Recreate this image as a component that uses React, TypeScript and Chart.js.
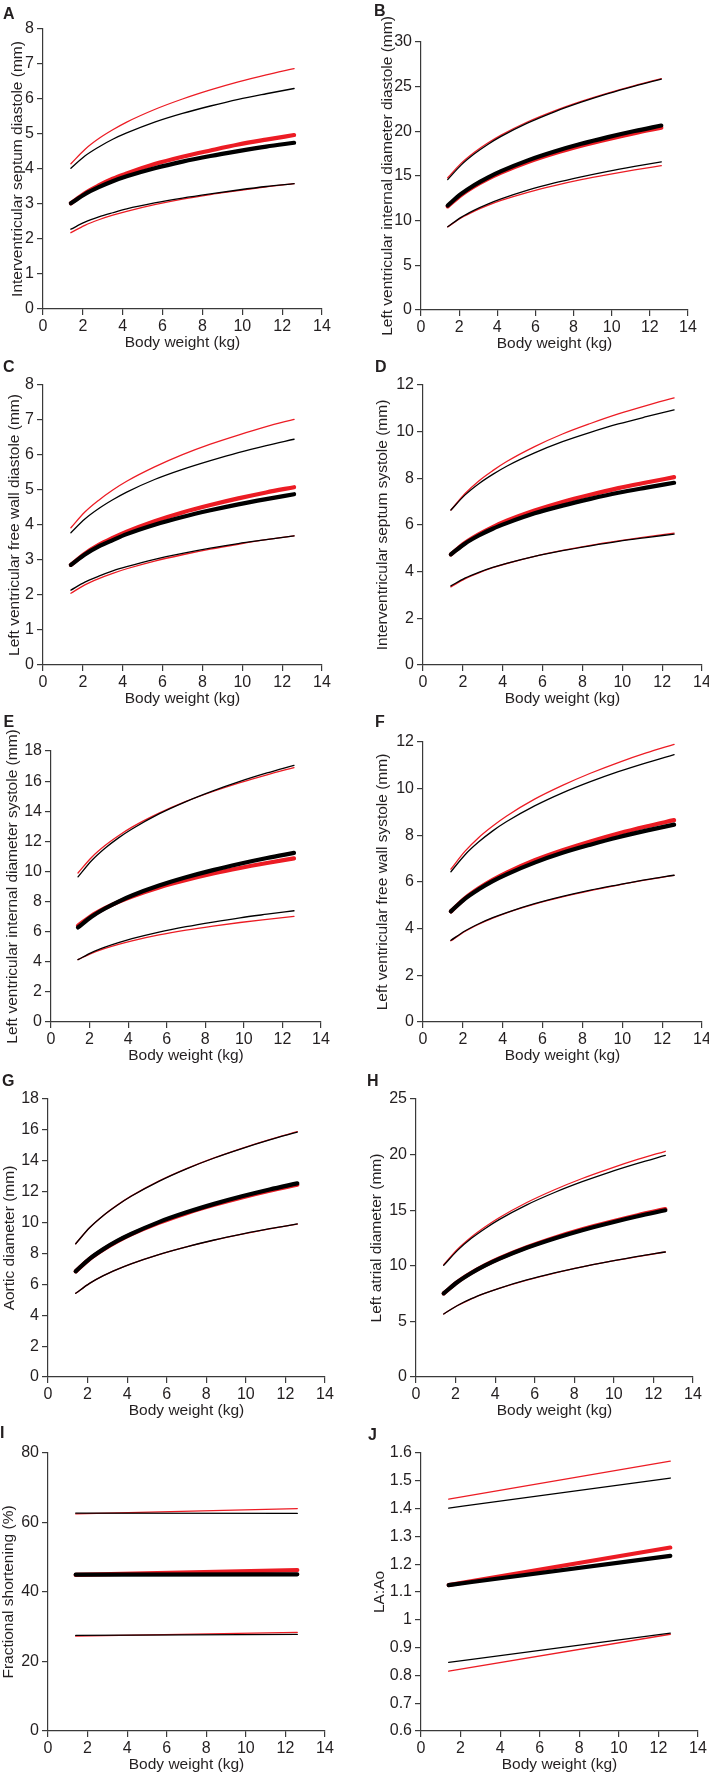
import React, { useEffect, useRef } from "react";
import { Chart, registerables } from "chart.js";

Chart.register(...registerables);

// ---------- data ----------
const bodyWeightKg = [1.4, 2.1, 2.8, 3.5, 4.2, 5.6, 7, 8.4, 9.8, 11.2, 12.6];
const bodyWeightEndsKg = [1.4, 12.6];
const xTickMax = 14;
const xTickStep = 2;

// A: Interventricular septum diastole (mm)
const ivsdBlackUpper = [4.02, 4.37, 4.63, 4.85, 5.03, 5.34, 5.59, 5.8, 5.99, 6.15, 6.3];
const ivsdBlackMean = [3.02, 3.28, 3.48, 3.65, 3.79, 4.02, 4.21, 4.37, 4.51, 4.64, 4.75];
const ivsdBlackLower = [2.28, 2.48, 2.63, 2.75, 2.86, 3.03, 3.17, 3.29, 3.4, 3.5, 3.58];
const ivsdRedUpper = [4.15, 4.56, 4.87, 5.12, 5.34, 5.7, 6.0, 6.26, 6.49, 6.69, 6.87];
const ivsdRedMean = [3.02, 3.31, 3.53, 3.72, 3.87, 4.14, 4.35, 4.53, 4.7, 4.84, 4.97];
const ivsdRedLower = [2.18, 2.39, 2.55, 2.68, 2.79, 2.98, 3.14, 3.27, 3.38, 3.49, 3.58];

// B: Left ventricular internal diameter diastole (mm)
const lviddBlackUpper = [14.6, 16.22, 17.48, 18.53, 19.43, 20.94, 22.19, 23.26, 24.22, 25.07, 25.85];
const lviddBlackMean = [11.7, 12.99, 14.0, 14.83, 15.54, 16.75, 17.74, 18.6, 19.35, 20.03, 20.65];
const lviddBlackLower = [9.32, 10.37, 11.18, 11.85, 12.43, 13.41, 14.22, 14.91, 15.53, 16.08, 16.59];
const lviddRedUpper = [14.8, 16.41, 17.66, 18.69, 19.58, 21.07, 22.3, 23.36, 24.29, 25.13, 25.9];
const lviddRedMean = [11.6, 12.87, 13.86, 14.68, 15.38, 16.56, 17.54, 18.38, 19.12, 19.79, 20.4];
const lviddRedLower = [9.3, 10.3, 11.07, 11.71, 12.26, 13.17, 13.93, 14.59, 15.16, 15.68, 16.15];

// C: Left ventricular free wall diastole (mm)
const lvfwdBlackUpper = [3.78, 4.17, 4.47, 4.72, 4.94, 5.3, 5.59, 5.84, 6.07, 6.27, 6.45];
const lvfwdBlackMean = [2.86, 3.16, 3.39, 3.57, 3.74, 4.01, 4.23, 4.42, 4.59, 4.74, 4.88];
const lvfwdBlackLower = [2.14, 2.37, 2.54, 2.69, 2.81, 3.02, 3.19, 3.34, 3.47, 3.58, 3.69];
const lvfwdRedUpper = [3.92, 4.37, 4.71, 5.0, 5.25, 5.66, 6.01, 6.31, 6.57, 6.81, 7.02];
const lvfwdRedMean = [2.86, 3.18, 3.43, 3.63, 3.81, 4.11, 4.36, 4.57, 4.76, 4.93, 5.08];
const lvfwdRedLower = [2.05, 2.29, 2.47, 2.62, 2.75, 2.97, 3.15, 3.31, 3.45, 3.58, 3.69];

// D: Interventricular septum systole (mm)
const ivssBlackUpper = [6.64, 7.28, 7.77, 8.17, 8.52, 9.09, 9.57, 9.97, 10.33, 10.64, 10.93];
const ivssBlackMean = [4.74, 5.2, 5.55, 5.84, 6.08, 6.5, 6.83, 7.12, 7.38, 7.6, 7.81];
const ivssBlackLower = [3.39, 3.72, 3.97, 4.18, 4.36, 4.66, 4.9, 5.11, 5.3, 5.46, 5.61];
const ivssRedUpper = [6.64, 7.34, 7.89, 8.33, 8.72, 9.36, 9.9, 10.35, 10.76, 11.12, 11.45];
const ivssRedMean = [4.74, 5.23, 5.6, 5.91, 6.18, 6.62, 6.99, 7.3, 7.58, 7.82, 8.05];
const ivssRedLower = [3.35, 3.69, 3.95, 4.17, 4.35, 4.66, 4.91, 5.13, 5.32, 5.49, 5.65];

// E: Left ventricular internal diameter systole (mm)
const lvidsBlackUpper = [9.64, 10.71, 11.54, 12.23, 12.82, 13.82, 14.64, 15.35, 15.98, 16.54, 17.05];
const lvidsBlackMean = [6.28, 6.99, 7.54, 8.0, 8.4, 9.06, 9.61, 10.09, 10.51, 10.89, 11.23];
const lvidsBlackLower = [4.14, 4.61, 4.97, 5.27, 5.53, 5.97, 6.33, 6.64, 6.92, 7.16, 7.39];
const lvidsRedUpper = [9.9, 10.93, 11.72, 12.37, 12.94, 13.87, 14.65, 15.31, 15.9, 16.42, 16.9];
const lvidsRedMean = [6.4, 7.06, 7.56, 7.98, 8.34, 8.94, 9.43, 9.86, 10.23, 10.56, 10.87];
const lvidsRedLower = [4.14, 4.56, 4.89, 5.16, 5.39, 5.78, 6.1, 6.37, 6.61, 6.82, 7.02];

// F: Left ventricular free wall systole (mm)
const lvfwsBlackUpper = [6.44, 7.16, 7.72, 8.19, 8.59, 9.26, 9.82, 10.3, 10.73, 11.11, 11.46];
const lvfwsBlackMean = [4.74, 5.28, 5.69, 6.04, 6.33, 6.83, 7.25, 7.6, 7.92, 8.2, 8.46];
const lvfwsBlackLower = [3.5, 3.9, 4.21, 4.47, 4.69, 5.07, 5.38, 5.65, 5.88, 6.1, 6.29];
const lvfwsRedUpper = [6.55, 7.31, 7.91, 8.4, 8.83, 9.55, 10.14, 10.66, 11.12, 11.53, 11.9];
const lvfwsRedMean = [4.74, 5.3, 5.73, 6.09, 6.4, 6.93, 7.36, 7.74, 8.08, 8.38, 8.65];
const lvfwsRedLower = [3.48, 3.88, 4.19, 4.45, 4.68, 5.05, 5.36, 5.63, 5.87, 6.09, 6.28];

// G: Aortic diameter (mm)
const aoBlackUpper = [8.63, 9.66, 10.46, 11.12, 11.7, 12.67, 13.48, 14.18, 14.79, 15.35, 15.86];
const aoBlackMean = [6.84, 7.65, 8.28, 8.81, 9.26, 10.03, 10.66, 11.21, 11.7, 12.14, 12.54];
const aoBlackLower = [5.42, 6.06, 6.56, 6.97, 7.33, 7.93, 8.43, 8.87, 9.25, 9.6, 9.91];
const aoRedUpper = [8.63, 9.66, 10.46, 11.13, 11.71, 12.68, 13.49, 14.19, 14.81, 15.37, 15.88];
const aoRedMean = [6.84, 7.64, 8.26, 8.78, 9.23, 9.98, 10.61, 11.15, 11.63, 12.06, 12.45];
const aoRedLower = [5.42, 6.06, 6.56, 6.97, 7.33, 7.93, 8.43, 8.86, 9.25, 9.59, 9.9];

// H: Left atrial diameter (mm)
const laBlackUpper = [10.04, 11.39, 12.47, 13.36, 14.15, 15.48, 16.59, 17.56, 18.43, 19.21, 19.93];
const laBlackMean = [7.52, 8.54, 9.35, 10.03, 10.62, 11.62, 12.46, 13.2, 13.85, 14.45, 14.99];
const laBlackLower = [5.67, 6.43, 7.04, 7.54, 7.98, 8.73, 9.36, 9.91, 10.39, 10.84, 11.24];
const laRedUpper = [10.1, 11.49, 12.59, 13.51, 14.32, 15.69, 16.84, 17.85, 18.74, 19.56, 20.3];
const laRedMean = [7.52, 8.55, 9.37, 10.06, 10.66, 11.67, 12.53, 13.28, 13.94, 14.55, 15.1];
const laRedLower = [5.67, 6.43, 7.03, 7.54, 7.97, 8.72, 9.35, 9.9, 10.39, 10.83, 11.24];

// I: Fractional shortening (%)
const fsBlackUpper = [62.7, 62.6];
const fsBlackMean = [45.0, 45.1];
const fsBlackLower = [27.5, 27.8];
const fsRedUpper = [62.5, 64.0];
const fsRedMean = [44.9, 46.3];
const fsRedLower = [27.3, 28.4];

// J: LA:Ao
const laaoBlackUpper = [1.402, 1.51];
const laaoBlackMean = [1.125, 1.23];
const laaoBlackLower = [0.847, 0.952];
const laaoRedUpper = [1.434, 1.571];
const laaoRedMean = [1.125, 1.26];
const laaoRedLower = [0.815, 0.948];

// ---------- panel definitions ----------
type Panel = {
  letter: string;
  yTitle: string;
  yMin: number;
  yMax: number;
  yStep: number;
  xs: number[];
  black: number[][]; // upper, mean, lower
  red: number[][];
  col: number;
  axisL: number;
  axisR: number;
  axisT: number;
  axisB: number;
  titleX: number;
  letterX: number;
  letterCY: number;
};

const panels: Panel[] = [
  { letter: "A", yTitle: "Interventricular septum diastole (mm)", yMin: 0, yMax: 8, yStep: 1, xs: bodyWeightKg,
    black: [ivsdBlackUpper, ivsdBlackMean, ivsdBlackLower], red: [ivsdRedUpper, ivsdRedMean, ivsdRedLower],
    col: 0, axisL: 43, axisR: 322, axisT: 29, axisB: 309, titleX: 18, letterX: 3, letterCY: 13.3 },
  { letter: "B", yTitle: "Left ventricular internal diameter diastole (mm)", yMin: 0, yMax: 30, yStep: 5, xs: bodyWeightKg,
    black: [lviddBlackUpper, lviddBlackMean, lviddBlackLower], red: [lviddRedUpper, lviddRedMean, lviddRedLower],
    col: 355, axisL: 421, axisR: 688, axisT: 42, axisB: 310, titleX: 388, letterX: 374, letterCY: 10.5 },
  { letter: "C", yTitle: "Left ventricular free wall diastole (mm)", yMin: 0, yMax: 8, yStep: 1, xs: bodyWeightKg,
    black: [lvfwdBlackUpper, lvfwdBlackMean, lvfwdBlackLower], red: [lvfwdRedUpper, lvfwdRedMean, lvfwdRedLower],
    col: 0, axisL: 43, axisR: 322, axisT: 385, axisB: 665, titleX: 15, letterX: 3, letterCY: 366.7 },
  { letter: "D", yTitle: "Interventricular septum systole (mm)", yMin: 0, yMax: 12, yStep: 2, xs: bodyWeightKg,
    black: [ivssBlackUpper, ivssBlackMean, ivssBlackLower], red: [ivssRedUpper, ivssRedMean, ivssRedLower],
    col: 355, axisL: 423, axisR: 702, axisT: 385, axisB: 665, titleX: 383, letterX: 375, letterCY: 366.7 },
  { letter: "E", yTitle: "Left ventricular internal diameter systole (mm)", yMin: 0, yMax: 18, yStep: 2, xs: bodyWeightKg,
    black: [lvidsBlackUpper, lvidsBlackMean, lvidsBlackLower], red: [lvidsRedUpper, lvidsRedMean, lvidsRedLower],
    col: 0, axisL: 51, axisR: 321, axisT: 751, axisB: 1022, titleX: 13, letterX: 3.5, letterCY: 722 },
  { letter: "F", yTitle: "Left ventricular free wall systole (mm)", yMin: 0, yMax: 12, yStep: 2, xs: bodyWeightKg,
    black: [lvfwsBlackUpper, lvfwsBlackMean, lvfwsBlackLower], red: [lvfwsRedUpper, lvfwsRedMean, lvfwsRedLower],
    col: 355, axisL: 423, axisR: 702, axisT: 742, axisB: 1022, titleX: 383, letterX: 375, letterCY: 721.7 },
  { letter: "G", yTitle: "Aortic diameter (mm)", yMin: 0, yMax: 18, yStep: 2, xs: bodyWeightKg,
    black: [aoBlackUpper, aoBlackMean, aoBlackLower], red: [aoRedUpper, aoRedMean, aoRedLower],
    col: 0, axisL: 48, axisR: 325, axisT: 1099, axisB: 1377, titleX: 10, letterX: 2, letterCY: 1080.5 },
  { letter: "H", yTitle: "Left atrial diameter (mm)", yMin: 0, yMax: 25, yStep: 5, xs: bodyWeightKg,
    black: [laBlackUpper, laBlackMean, laBlackLower], red: [laRedUpper, laRedMean, laRedLower],
    col: 355, axisL: 416, axisR: 693, axisT: 1099, axisB: 1377, titleX: 377, letterX: 367, letterCY: 1080.3 },
  { letter: "I", yTitle: "Fractional shortening (%)", yMin: 0, yMax: 80, yStep: 20, xs: bodyWeightEndsKg,
    black: [fsBlackUpper, fsBlackMean, fsBlackLower], red: [fsRedUpper, fsRedMean, fsRedLower],
    col: 0, axisL: 48, axisR: 325, axisT: 1453, axisB: 1731, titleX: 9, letterX: 0, letterCY: 1433 },
  { letter: "J", yTitle: "LA:Ao", yMin: 0.6, yMax: 1.6, yStep: 0.1, xs: bodyWeightEndsKg,
    black: [laaoBlackUpper, laaoBlackMean, laaoBlackLower], red: [laaoRedUpper, laaoRedMean, laaoRedLower],
    col: 355, axisL: 421, axisR: 698, axisT: 1453, axisB: 1731, titleX: 380, letterX: 368, letterCY: 1434.3 },
];

// ---------- styling ----------
const FONT = '"Liberation Sans", Arial, Helvetica, sans-serif';
const TEXT_COLOR = "#231f20";
const AXIS_COLOR = "#3a3a3a";
const RED = "#ec1c24";
const BLACK = "#000000";
const THIN = 1.3;
const THICK = 4.2;
const TICK_SIZE = 16;
const TITLE_SIZE = 15.5;
const CANVAS_W = 360;
const TOP_EXTRA = 30;
const BOTTOM_EXTRA = 45;
const X_SCALE_H = 41.5;

function PanelChart({ p }: { p: Panel }) {
  const ref = useRef<HTMLCanvasElement | null>(null);
  const canvasLeft = p.col;
  const canvasTop = p.axisT - TOP_EXTRA;
  const canvasH = p.axisB - p.axisT + TOP_EXTRA + BOTTOM_EXTRA;

  useEffect(() => {
    const canvas = ref.current;
    if (!canvas) return;
    const lh = TITLE_SIZE;
    const padLeft = Math.max(0, p.titleX - lh / 2 - canvasLeft);
    const yWidth = p.axisL - canvasLeft - padLeft;
    const padRight = canvasLeft + CANVAS_W - p.axisR;
    const padBottom = BOTTOM_EXTRA - X_SCALE_H;

    const mk = (vals: number[], color: string, width: number) => ({
      data: p.xs.map((x, i) => ({ x, y: vals[i] })),
      borderColor: color,
      backgroundColor: color,
      borderWidth: width,
      borderCapStyle: "round" as const,
      borderJoinStyle: "round" as const,
      pointRadius: 0,
      fill: false,
      cubicInterpolationMode: "monotone" as const,
    });

    const datasets = [
      mk(p.black[1], BLACK, THICK),
      mk(p.black[0], BLACK, THIN),
      mk(p.black[2], BLACK, THIN),
      mk(p.red[1], RED, THICK),
      mk(p.red[0], RED, THIN),
      mk(p.red[2], RED, THIN),
    ];

    const tickFont = { family: FONT, size: TICK_SIZE, lineHeight: 1.1 };
    const titleFont = { family: FONT, size: TITLE_SIZE, lineHeight: 1 };

    const chart = new Chart(canvas, {
      type: "line",
      data: { datasets },
      options: {
        animation: false,
        responsive: false,
        events: [],
        layout: { padding: { left: padLeft, top: TOP_EXTRA, right: padRight, bottom: padBottom } },
        plugins: { legend: { display: false }, tooltip: { enabled: false }, title: { display: false } },
        scales: {
          x: {
            type: "linear",
            min: 0,
            max: xTickMax,
            ticks: {
              stepSize: xTickStep,
              autoSkip: false,
              maxRotation: 0,
              minRotation: 0,
              padding: 3,
              color: TEXT_COLOR,
              font: tickFont,
            },
            grid: { display: true, drawOnChartArea: false, drawTicks: true, tickLength: 6, color: AXIS_COLOR, lineWidth: 1.2 },
            border: { display: true, color: AXIS_COLOR, width: 1.2 },
            title: { display: true, text: "Body weight (kg)", color: TEXT_COLOR, font: titleFont, padding: 0 },
            afterFit: (s: any) => {
              s.height = X_SCALE_H;
            },
          },
          y: {
            type: "linear",
            min: p.yMin,
            max: p.yMax,
            ticks: {
              stepSize: p.yStep,
              autoSkip: false,
              padding: 3,
              color: TEXT_COLOR,
              font: tickFont,
              callback: (v: any) => String(Math.round(Number(v) * 1000) / 1000),
            },
            grid: { display: true, drawOnChartArea: false, drawTicks: true, tickLength: 6, color: AXIS_COLOR, lineWidth: 1.2 },
            border: { display: true, color: AXIS_COLOR, width: 1.2 },
            title: { display: true, text: p.yTitle, color: TEXT_COLOR, font: titleFont, padding: 0 },
            afterFit: (s: any) => {
              s.width = yWidth;
            },
          },
        },
      } as any,
    });
    return () => chart.destroy();
  }, []);

  return (
    <canvas
      ref={ref}
      width={CANVAS_W}
      height={canvasH}
      style={{ position: "absolute", left: canvasLeft, top: canvasTop, width: CANVAS_W, height: canvasH }}
    />
  );
}

export default function App() {
  return (
    <div
      style={{
        position: "absolute",
        left: 0,
        top: 0,
        width: 709,
        height: 1774,
        overflow: "hidden",
        background: "#ffffff",
      }}
    >
      {panels.map((p) => (
        <PanelChart key={p.letter} p={p} />
      ))}
      {panels.map((p) => (
        <div
          key={"L" + p.letter}
          style={{
            position: "absolute",
            left: p.letterX,
            top: p.letterCY - 7.8,
            fontFamily: FONT,
            fontWeight: "bold",
            fontSize: 16,
            lineHeight: "16px",
            color: TEXT_COLOR,
          }}
        >
          {p.letter}
        </div>
      ))}
    </div>
  );
}
